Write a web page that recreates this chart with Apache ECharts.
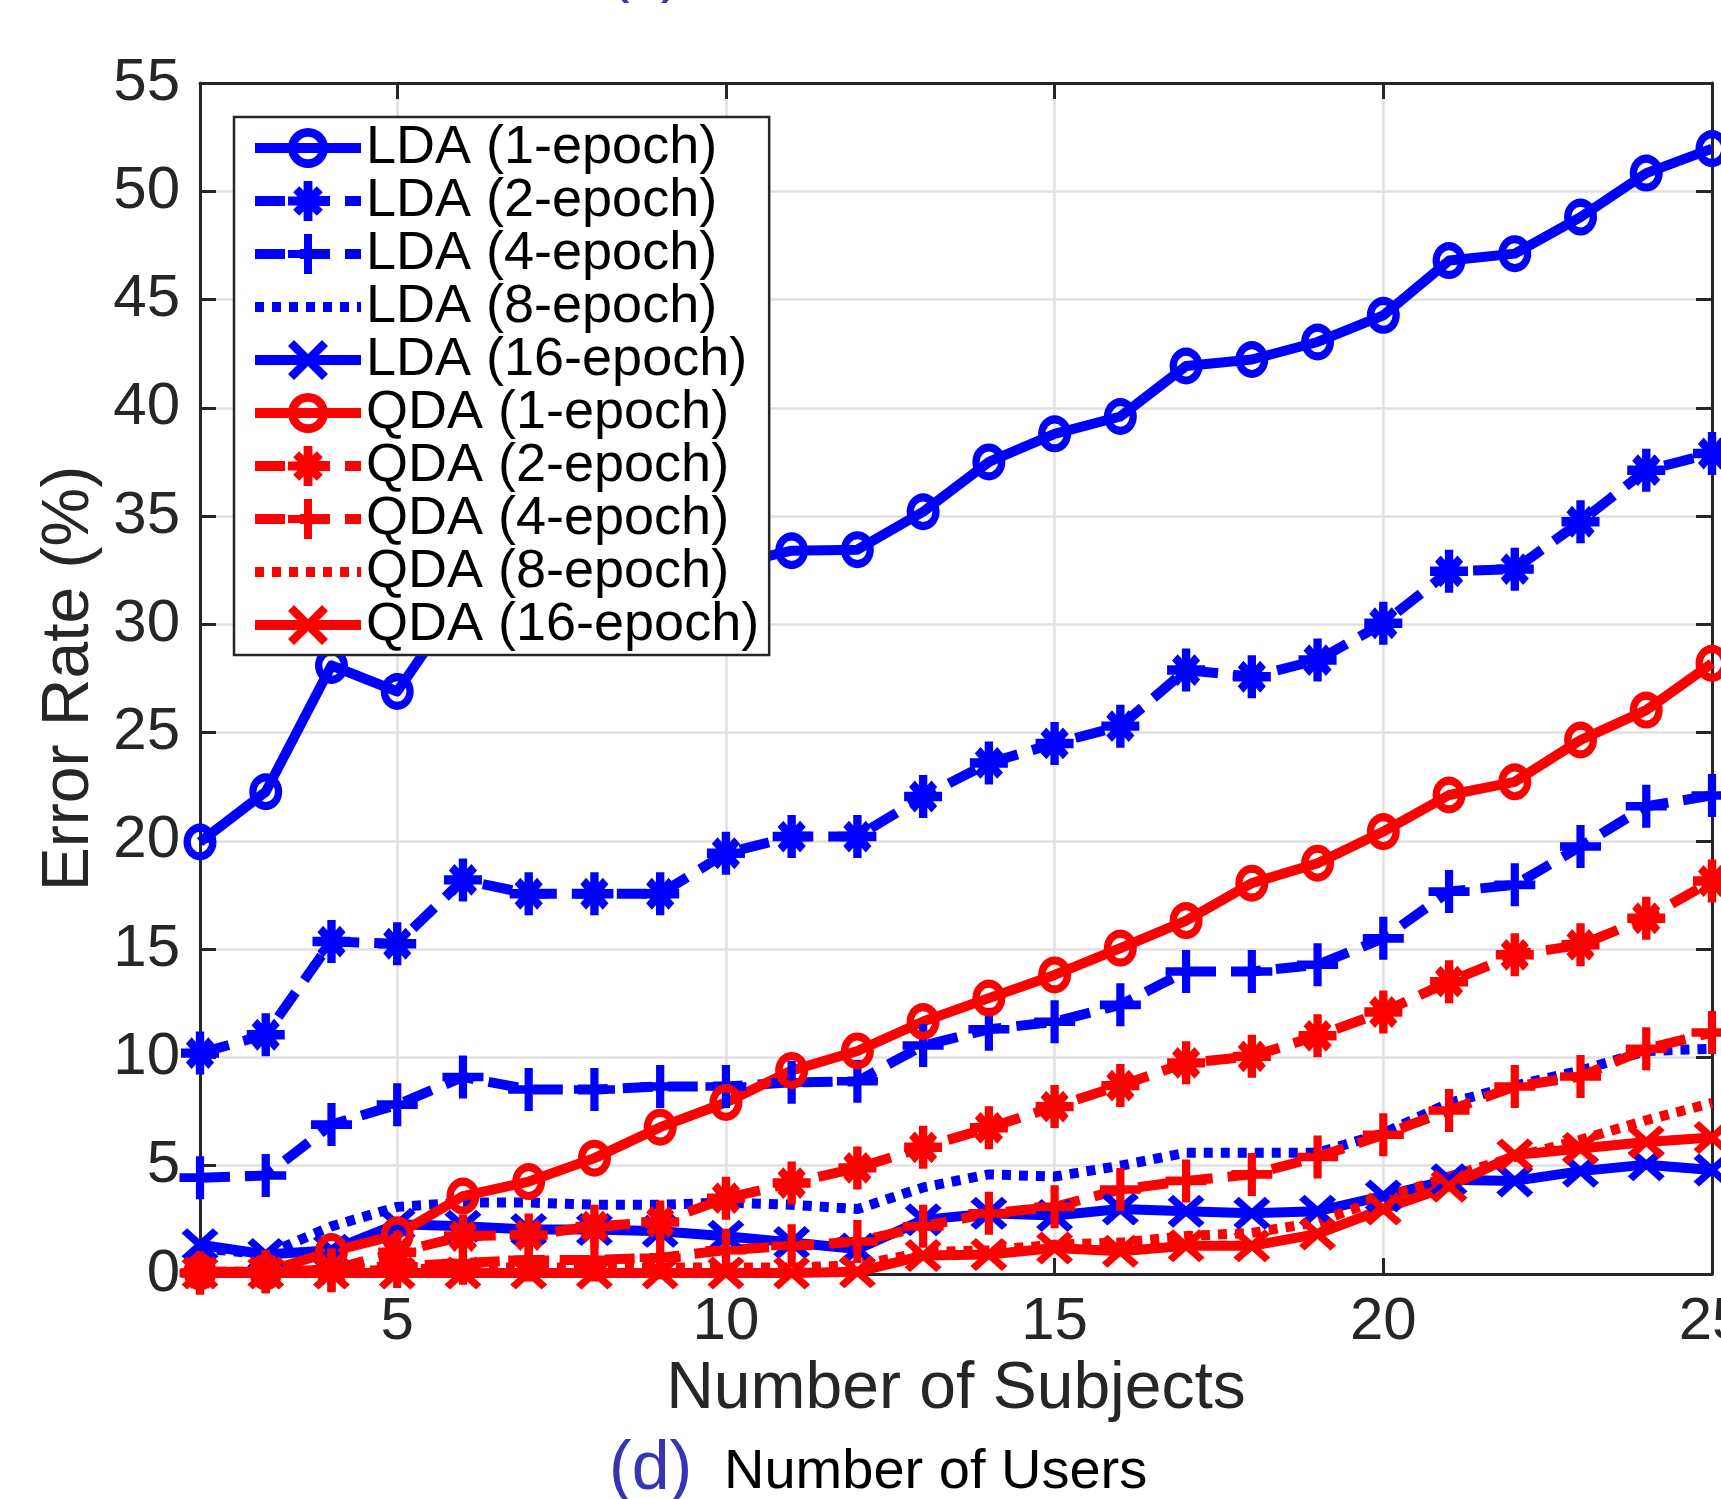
<!DOCTYPE html>
<html><head><meta charset="utf-8">
<script src="https://cdn.jsdelivr.net/npm/echarts@6/dist/echarts.min.js"></script>
<style>html,body{margin:0;padding:0;background:#fff}#c{width:1721px;height:1499px}</style>
</head><body><div id="c"></div>
<script>
const subjects = [2,3,4,5,6,7,8,9,10,11,12,13,14,15,16,17,18,19,20,21,22,23,24,25];
const xTicks = [5,10,15,20,25];
const ldaE1  = [19.95,22.27,28.1,26.9,31.3,31.5,32.0,32.3,32.7,33.4,33.45,35.2,37.5,38.8,39.6,41.93,42.23,43.04,44.27,46.8,47.12,48.81,50.84,51.97];
const ldaE2  = [10.2,11.05,15.35,15.25,18.2,17.56,17.56,17.56,19.43,20.2,20.2,22.05,23.6,24.5,25.3,27.89,27.58,28.35,30.05,32.45,32.55,34.74,37.12,37.89];
const ldaE4  = [4.45,4.55,6.9,7.82,9.1,8.52,8.52,8.66,8.66,8.85,8.9,10.55,11.3,11.65,12.43,13.97,13.97,14.28,15.5,17.66,17.97,19.74,21.6,22.1];
const ldaE8  = [1.2,0.9,2.2,3.1,3.3,3.3,3.2,3.2,3.3,3.2,3.0,4.0,4.6,4.5,5.0,5.6,5.6,5.6,6.5,7.9,8.7,9.4,10.3,10.4];
const ldaE16 = [1.35,0.9,1.1,2.3,2.2,2.05,2.05,1.97,1.74,1.45,1.15,2.5,2.8,2.7,3.0,2.9,2.8,2.9,3.6,4.35,4.3,4.75,5.05,4.8];
const qdaE1  = [0.1,0.1,1.04,1.81,3.6,4.27,5.35,6.78,7.92,9.4,10.3,11.66,12.74,13.81,15.05,16.32,18.05,18.97,20.43,22.12,22.73,24.66,26.04,28.2];
const qdaE2  = [0.05,0.1,0.2,1.0,1.75,1.8,2.2,2.4,3.5,4.2,4.9,5.85,6.75,7.73,8.7,9.75,10.05,11.0,12.1,13.5,14.74,15.2,16.43,18.15];
const qdaE4  = [0.05,0.1,0.15,0.35,0.5,0.65,0.65,0.75,1.1,1.3,1.5,2.2,2.8,3.1,3.9,4.3,4.6,5.4,6.43,7.55,8.66,9.12,10.4,11.15];
const qdaE8  = [0.1,0.1,0.1,0.2,0.3,0.3,0.3,0.3,0.3,0.3,0.4,1.0,1.1,1.35,1.45,1.75,1.9,2.4,3.5,4.5,5.4,6.2,7.1,7.9];
const qdaE16 = [0.05,0.05,0.05,0.05,0.05,0.05,0.05,0.05,0.05,0.05,0.1,0.85,0.9,1.2,1.05,1.3,1.3,1.85,3.0,4.05,5.5,5.8,6.1,6.3];

const FONT = '"Liberation Sans", Arial, Helvetica, sans-serif';
const BLUE = '#0000ff', RED = '#ff0000', AX = '#262626';
const RING = 'path://M50,0 A50,50 0 1,1 50,100 A50,50 0 1,1 50,0 Z M50,22 A28,28 0 1,0 50,78 A28,28 0 1,0 50,22 Z';
const PLUS = 'path://M40,0 H60 V40 H100 V60 H60 V100 H40 V60 H0 V40 H40 Z';
const STAR = 'path://M39,0 H61 V39 H100 V61 H61 V100 H39 V61 H0 V39 H39 Z M13,28 L28,13 L50,35 L72,13 L87,28 L65,50 L87,72 L72,87 L50,65 L28,87 L13,72 L35,50 Z';
const CROSS = 'path://M0,15 L15,0 L50,35 L85,0 L100,15 L65,50 L100,85 L85,100 L50,65 L15,100 L0,85 L35,50 Z';
const NONE = 'path://M0,0 L10,10';
const DASH = [30,15], DOT = [9,8];

function mk(name, vals, color, type, sym, size) {
  return {
    name, type: 'line', data: subjects.map((x, i) => [x, vals[i]]),
    symbol: sym, symbolSize: size, showSymbol: sym !== NONE,
    lineStyle: { color, width: 10, type, cap: 'butt', join: 'round' },
    itemStyle: { color, borderWidth: 0 },
    emphasis: { disabled: true }, animation: false, clip: false
  };
}

const series = [
  mk('LDA (1-epoch)', ldaE1, BLUE, 'solid', RING, [33,37]),
  mk('LDA (2-epoch)', ldaE2, BLUE, DASH, STAR, [38,43]),
  mk('LDA (4-epoch)', ldaE4, BLUE, DASH, PLUS, [41,43]),
  mk('LDA (8-epoch)', ldaE8, BLUE, DOT, NONE, 1),
  mk('LDA (16-epoch)', ldaE16, BLUE, 'solid', CROSS, [37,33]),
  mk('QDA (1-epoch)', qdaE1, RED, 'solid', RING, [33,37]),
  mk('QDA (2-epoch)', qdaE2, RED, DASH, STAR, [38,43]),
  mk('QDA (4-epoch)', qdaE4, RED, DASH, PLUS, [41,43]),
  mk('QDA (8-epoch)', qdaE8, RED, DOT, NONE, 1),
  mk('QDA (16-epoch)', qdaE16, RED, 'solid', CROSS, [37,33])
];

const axLine = { show: true, onZero: false, lineStyle: { color: AX, width: 3 } };
const tick = { show: true, inside: true, length: 16, lineStyle: { color: AX, width: 3 } };
const grid = { show: true, lineStyle: { color: '#e0e0e0', width: 2.5 } };

const chart = echarts.init(document.getElementById('c'), null, { renderer: 'canvas' });
chart.setOption({
  animation: false,
  backgroundColor: '#ffffff',
  textStyle: { fontFamily: FONT },
  grid: { left: 200, top: 83, right: 9, bottom: 225, outerBoundsMode: 'none', containLabel: false },
  xAxis: [
    { type: 'value', min: 2, max: 25, position: 'bottom', axisLine: axLine,
      axisTick: Object.assign({ customValues: xTicks }, tick),
      axisLabel: { customValues: xTicks, fontSize: 60, color: AX, margin: 18, fontFamily: FONT, hideOverlap: false },
      splitLine: grid,
      name: 'Number of Subjects', nameLocation: 'middle', nameGap: 78,
      nameTextStyle: { fontSize: 66, color: AX, fontFamily: FONT } },
    { type: 'value', min: 2, max: 25, position: 'top', axisLine: axLine,
      axisTick: Object.assign({ customValues: xTicks }, tick),
      axisLabel: { show: false, customValues: xTicks }, splitLine: { show: false } }
  ],
  yAxis: [
    { type: 'value', min: 0, max: 55, interval: 5, position: 'left', axisLine: axLine, axisTick: tick,
      axisLabel: { fontSize: 60, color: AX, margin: 20, fontFamily: FONT },
      splitLine: grid,
      name: 'Error Rate (%)', nameLocation: 'middle', nameGap: 92, nameRotate: 90,
      nameTextStyle: { fontSize: 66, color: AX, fontFamily: FONT } },
    { type: 'value', min: 0, max: 55, interval: 5, position: 'right', axisLine: axLine, axisTick: tick,
      axisLabel: { show: false }, splitLine: { show: false } }
  ],
  legend: {
    orient: 'vertical', left: 234, top: 117,
    padding: [4, 10, 3, 16], itemGap: -1, itemWidth: 106, itemHeight: 50,
    backgroundColor: '#ffffff', borderColor: AX, borderWidth: 2.5, borderRadius: 0,
    selectedMode: false,
    textStyle: { fontSize: 54, color: '#000', fontFamily: FONT, lineHeight: 52 },
    lineStyle: { width: 10, type: 'inherit', cap: 'butt' },
    itemStyle: { borderWidth: 0 },
    data: series.map(s => s.name)
  },
  graphic: [
    { type: 'text', left: 609, top: -58, silent: true,
      style: { text: '(c)', fill: '#3535b5', fontSize: 62, fontFamily: FONT } },
    { type: 'text', x: 609, y: 1470, silent: true,
      style: { text: '(d)', fill: '#3535b5', fontSize: 68, fontFamily: FONT, verticalAlign: 'middle', align: 'left' } },
    { type: 'text', x: 724, y: 1473, silent: true,
      style: { text: 'Number of Users', fill: '#000', fontSize: 56, fontFamily: FONT, verticalAlign: 'middle', align: 'left' } }
  ],
  series
});
</script>
</body></html>
